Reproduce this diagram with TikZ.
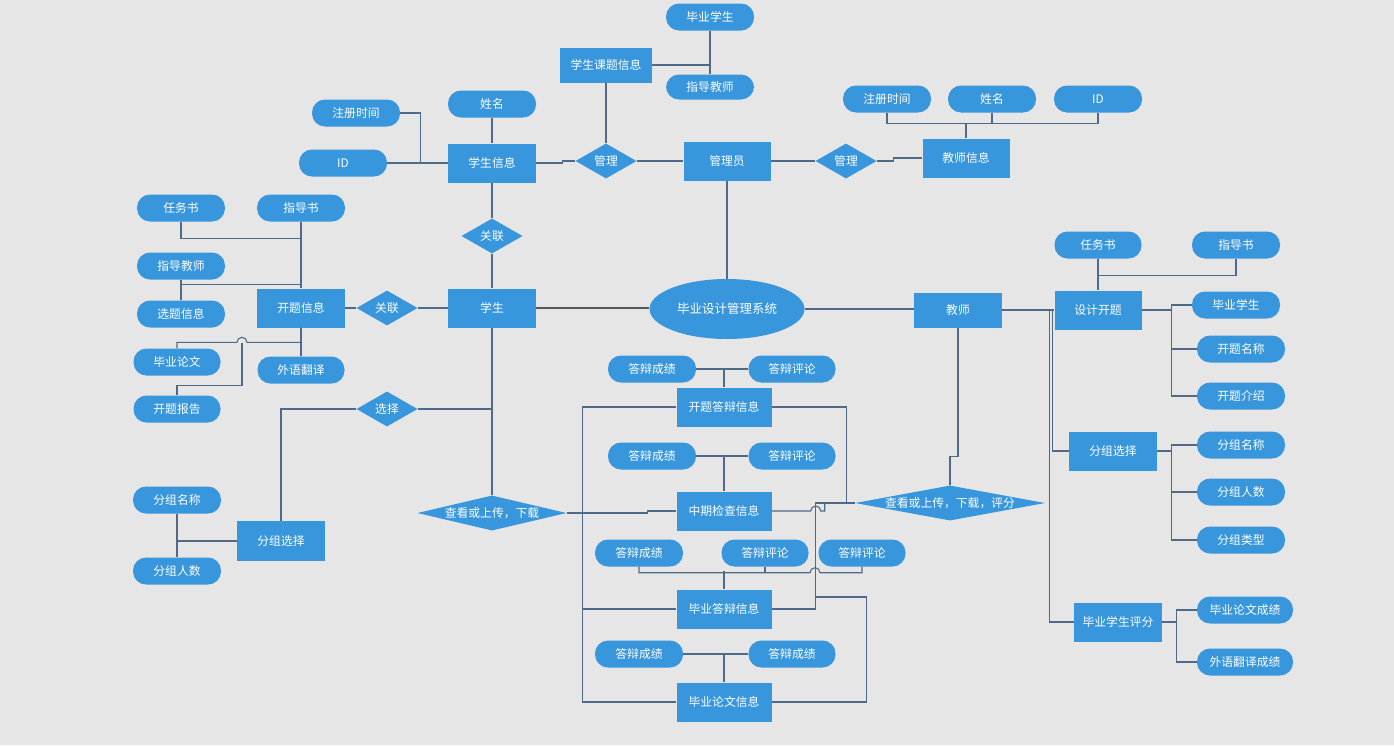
\documentclass[tikz,border=0pt]{standalone}
\usepackage{fontspec}
\newfontfamily\cjkfont{Noto Sans CJK SC}
\usetikzlibrary{shapes.geometric}
\definecolor{boxblue}{RGB}{55,150,220}
\definecolor{linegray}{RGB}{78,106,136}
\definecolor{paper}{RGB}{230,230,230}

\begin{document}
\begin{tikzpicture}[x=1pt,y=-1pt,
    every node/.style={font=\cjkfont\fontsize{11.8}{14}\selectfont,text=white,fill=boxblue,inner sep=0pt},
    entity/.style={rectangle,minimum width=88pt,minimum height=39pt},
    attr/.style={rectangle,rounded corners=13pt,minimum width=88pt,minimum height=27pt},
    rel/.style={diamond,aspect=1.75,minimum width=61pt,minimum height=35pt},
    link/.style={draw=linegray,line width=1.1pt}]
    \fill[paper] (0,0) rectangle (1394,745);
    \useasboundingbox (0,0) rectangle (1394,745);

    % student info and topics
    \node[attr] (gradstu) at (710,17) {毕业学生};
    \node[entity,minimum width=92pt,minimum height=35pt] (topicinfo) at (606,65) {学生课题信息};
    \node[attr,minimum height=25pt] (advisor) at (710,87) {指导教师};
    \node[attr] (sname) at (492,104) {姓名};
    \node[attr] (sreg) at (356,113) {注册时间};
    \node[attr] (sid) at (343,163) {ID};
    \node[entity] (sinfo) at (492,163) {学生信息};
    \node[rel] (manageL) at (606,161) {管理};
    \node[entity,minimum width=87pt] (admin) at (727,161) {管理员};
    \node[rel] (manageR) at (846,161) {管理};
    \node[entity,minimum width=87pt] (tinfo) at (966,158) {教师信息};
    \node[attr] (treg) at (887,99) {注册时间};
    \node[attr] (tname) at (992,99) {姓名};
    \node[attr] (tid) at (1098,99) {ID};

    % centre
    \node[ellipse,minimum width=155pt,minimum height=60pt,font=\cjkfont\fontsize{12.5}{15}\selectfont] (system) at (727,309) {毕业设计管理系统};
    \node[entity] (student) at (492,308) {学生};
    \node[rel] (relTop) at (492,236) {关联};
    \node[rel] (relLeft) at (387,308) {关联};
    \node[entity] (proposal) at (301,308) {开题信息};
    \node[attr] (oTask) at (181,208) {任务书};
    \node[attr] (oGuide) at (301,208) {指导书};
    \node[attr] (oAdvisor) at (181,266) {指导教师};
    \node[attr] (oChoice) at (181,314) {选题信息};
    \node[attr,minimum width=87pt] (oThesis) at (177,362) {毕业论文};
    \node[attr,minimum width=87pt] (oReport) at (177,409) {开题报告};
    \node[attr,minimum width=87pt] (oTrans) at (301,370) {外语翻译};
    \node[rel] (choose) at (387,409) {选择};
    \node[entity,minimum height=40pt] (groupL) at (281,541) {分组选择};
    \node[attr] (gName) at (177,500) {分组名称};
    \node[attr] (gNum) at (177,571) {分组人数};
    \node[rel,aspect=4.26,minimum width=149pt,inner sep=-1pt] (viewDl) at (492,513) {查看或上传，下载};

    % defence records
    \node[attr] (s1) at (652,369) {答辩成绩};
    \node[attr,minimum width=87pt] (c1) at (792,369) {答辩评论};
    \node[entity,minimum width=95pt] (propDef) at (724,407) {开题答辩信息};
    \node[attr] (s2) at (652,456) {答辩成绩};
    \node[attr,minimum width=87pt] (c2) at (792,456) {答辩评论};
    \node[entity,minimum width=95pt] (midCheck) at (724,511) {中期检查信息};
    \node[attr] (s3) at (639,553) {答辩成绩};
    \node[attr,minimum width=87pt] (c3) at (765,553) {答辩评论};
    \node[attr,minimum width=87pt] (c4) at (862,553) {答辩评论};
    \node[entity,minimum width=95pt] (gradDef) at (724,609) {毕业答辩信息};
    \node[attr] (s5) at (639,654) {答辩成绩};
    \node[attr,minimum width=87pt] (s6) at (792,654) {答辩成绩};
    \node[entity,minimum width=95pt] (thesisInfo) at (724,702) {毕业论文信息};
    \node[rel,aspect=5.43,minimum width=190pt,inner sep=-2pt] (viewScore) at (950,503) {查看或上传，下载，评分};

    % teacher side
    \node[entity,minimum height=35pt] (teacher) at (958,310) {教师};
    \node[entity,minimum width=87pt] (design) at (1098,310) {设计开题};
    \node[attr,minimum width=87pt] (dTask) at (1098,245) {任务书};
    \node[attr] (dGuide) at (1236,245) {指导书};
    \node[attr] (dStu) at (1236,305) {毕业学生};
    \node[attr] (dName) at (1241,349) {开题名称};
    \node[attr] (dIntro) at (1241,396) {开题介绍};
    \node[entity] (groupR) at (1113,451) {分组选择};
    \node[attr] (rgName) at (1241,445) {分组名称};
    \node[attr] (rgNum) at (1241,492) {分组人数};
    \node[attr] (rgType) at (1241,540) {分组类型};
    \node[entity] (score) at (1118,622) {毕业学生评分};
    \node[attr,minimum width=96pt] (scThesis) at (1245,610) {毕业论文成绩};
    \node[attr,minimum width=96pt] (scTrans) at (1245,662) {外语翻译成绩};

    % links, top
    \draw[link] (gradstu.south) -- (advisor.north);
    \draw[link] (topicinfo.east) -- (topicinfo.east -| gradstu.south);
    \draw[link] (topicinfo.south) -- (manageL.north);
    \draw[link] (sname.south) -- (sinfo.north);
    \draw[link] (sreg.east) -- ++(20,0) |- (sinfo.west);
    \draw[link] (sid.east) -- (sinfo.west);
    \draw[link] (sinfo.east) -- ++(26,0) |- (manageL.west);
    \draw[link] (manageL.east) -- (admin.west);
    \draw[link] (admin.east) -- (manageR.west);
    \draw[link] (manageR.east) -- ++(17,0) |- (tinfo.west);
    \draw[link] (treg.south) -- ++(0,11) -| (tid.south);
    \draw[link] (tname.south) -- ++(0,11);
    \draw[link] (tinfo.north) -- ++(0,-15);
    \draw[link] (admin.south) -- (system.north);

    % links, student side
    \draw[link] (sinfo.south) -- (relTop.north);
    \draw[link] (relTop.south) -- (student.north);
    \draw[link,draw=black!65] (student.east) -- (student.east -| system.west);
    \draw[link] (proposal.east) -- (relLeft.west);
    \draw[link] (relLeft.east) -- (student.west);
    \draw[link] (oGuide.south) -- (proposal.north);
    \draw[link] (oTask.south) -- ++(0,17) -- ++(120,0);
    \draw[link] (oAdvisor.south) -- (oChoice.north);
    \draw[link] (oAdvisor.south) ++(0,5) -- ++(120,0);
    \draw[link] (oThesis.north) -- ++(0,-6) -- ++(60,0) arc (180:360:5) -| (proposal.south);
    \draw[link] (oReport.north) -- ++(0,-10) -- ++(65,0) -- ++(0,-42);
    \draw[link] (proposal.south) -- (oTrans.north);
    \draw[link] (student.south) -- (viewDl.north);
    \draw[link] (choose.east) -- (choose.east -| student.south);
    \draw[link] (choose.west) -| (groupL.north);
    \draw[link] (gName.south) -- (gNum.north);
    \draw[link] (groupL.west) -- (groupL.west -| gName.south);

    % links, defence records
    \draw[link] (s1.east) -- (c1.west);
    \draw[link] (propDef.north) -- (propDef.north |- s1.east);
    \draw[link] (s2.east) -- (c2.west);
    \draw[link] (midCheck.north) -- (midCheck.north |- s2.east);
    \draw[link] (s3.south) -- ++(0,6) -- ++(171,0) arc (180:360:5) -| (c4.south);
    \draw[link] (c3.south) -- ++(0,6);
    \draw[link] (gradDef.north) -- ++(0,-18);
    \draw[link] (s5.east) -- (s6.west);
    \draw[link] (thesisInfo.north) -- ++(0,-28);
    \draw[link] (propDef.west) -- ++(-94,0) |- (thesisInfo.west);
    \draw[link] (gradDef.west) -- ++(-94,0);
    \draw[link] (viewDl.east) -- ++(81,0) |- (midCheck.west);
    \draw[link] (midCheck.east) -- ++(39,0) arc (180:360:5) -- ++(4,0) |- (viewScore.west);
    \draw[link] (propDef.east) -- ++(75,0) -- ++(0,96);
    \draw[link] (gradDef.east) -- ++(44,0) |- (viewScore.west);
    \draw[link] (thesisInfo.east) -- ++(95,0) -- ++(0,-105) -- ++(-51,0);
    \draw[link] (viewScore.north) -- ++(0,-29) -| (teacher.south);

    % links, teacher side
    \draw[link] (system.east) -- (system.east -| teacher.west);
    \draw[link] (teacher.east) -- (design.west);
    \draw[link] (teacher.east) -- ++(47,0) |- (score.west);
    \draw[link] (teacher.east) -- ++(50,0) |- (groupR.west);
    \draw[link] (dTask.south) -- (design.north);
    \draw[link] (dTask.south) ++(0,17) -| (dGuide.south);
    \draw[link] (design.east) -- ++(30,0);
    \draw[link] (dStu.west) -- ++(-20,0) |- (dIntro.west);
    \draw[link] (dName.west) -- ++(-25,0);
    \draw[link] (groupR.east) -- ++(15,0);
    \draw[link] (rgName.west) -- ++(-25,0) |- (rgType.west);
    \draw[link] (rgNum.west) -- ++(-25,0);
    \draw[link] (score.east) -- ++(15,0);
    \draw[link] (scThesis.west) -- ++(-20,0) |- (scTrans.west);
\end{tikzpicture}
\end{document}
